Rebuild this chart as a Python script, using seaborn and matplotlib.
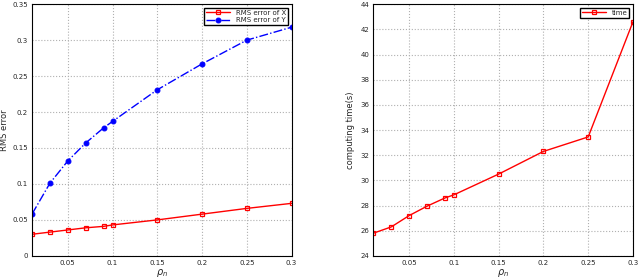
import numpy as np
import pandas as pd
import matplotlib.pyplot as plt
import seaborn as sns

rho = [0.01, 0.03, 0.05, 0.07, 0.09, 0.1, 0.15, 0.2, 0.25, 0.3]
rms_x = [0.030, 0.033, 0.036, 0.039, 0.041, 0.043, 0.050, 0.058, 0.066, 0.073]
rms_y = [0.058, 0.101, 0.132, 0.157, 0.178, 0.187, 0.231, 0.267, 0.300, 0.318]
comp_time = [25.8, 26.3, 27.2, 27.95, 28.6, 28.85, 30.5, 32.3, 33.45, 42.6]

sns.set_style("whitegrid", {"grid.linestyle": ":", "grid.color": "#b0b0b0",
                            "axes.edgecolor": "black"})
plt.rcParams["font.family"] = ["DejaVu Sans"]

fig, axes = plt.subplots(1, 2, figsize=(6.4, 2.79), dpi=100)
fs = 5

# left: RMS errors
ax = axes[0]
sns.lineplot(x=rho, y=rms_x, ax=ax, color="red", marker="s", markersize=3.5,
             markerfacecolor="none", markeredgecolor="red", markeredgewidth=0.9,
             linewidth=1.0, label="RMS error of X")
sns.lineplot(x=rho, y=rms_y, ax=ax, color="blue", marker="o", markersize=3.5,
             markeredgecolor="blue", linewidth=1.0, linestyle="-.",
             label="RMS error of Y")
ax.set_xlim(0.01, 0.3)
ax.set_ylim(0, 0.35)
ax.set_xticks([0.05, 0.1, 0.15, 0.2, 0.25, 0.3])
ax.set_xticklabels(["0.05", "0.1", "0.15", "0.2", "0.25", "0.3"])
ax.set_yticks(np.arange(0, 0.36, 0.05))
ax.set_yticklabels(["0", "0.05", "0.1", "0.15", "0.2", "0.25", "0.3", "0.35"])
ax.set_xlabel(r"$\rho_n$", fontsize=7, labelpad=1)
ax.set_ylabel("RMS error", fontsize=fs + 1, labelpad=2)
ax.legend(loc="upper right", fontsize=fs, fancybox=False, edgecolor="black",
          framealpha=1, handlelength=3.5, borderpad=0.3, labelspacing=0.2)

# right: computing time
ax = axes[1]
sns.lineplot(x=rho, y=comp_time, ax=ax, color="red", marker="s", markersize=3.5,
             markerfacecolor="none", markeredgecolor="red", markeredgewidth=0.9,
             linewidth=1.0, label="time")
ax.set_xlim(0.01, 0.3)
ax.set_ylim(24, 44)
ax.set_xticks([0.05, 0.1, 0.15, 0.2, 0.25, 0.3])
ax.set_xticklabels(["0.05", "0.1", "0.15", "0.2", "0.25", "0.3"])
ax.set_yticks(range(24, 45, 2))
ax.set_xlabel(r"$\rho_n$", fontsize=7, labelpad=1)
ax.set_ylabel("computing time(s)", fontsize=fs + 1, labelpad=4)
ax.legend(loc="upper right", fontsize=fs, fancybox=False, edgecolor="black",
          framealpha=1, handlelength=3.5, borderpad=0.3, labelspacing=0.2)

for ax in axes:
    ax.tick_params(labelsize=fs, length=2, direction="in", pad=3)
    for s in ax.spines.values():
        s.set_linewidth(0.8)

fig.subplots_adjust(left=0.05, right=0.989, top=0.985, bottom=0.083, wspace=0.315)
fig.savefig("out.png", dpi=100)
